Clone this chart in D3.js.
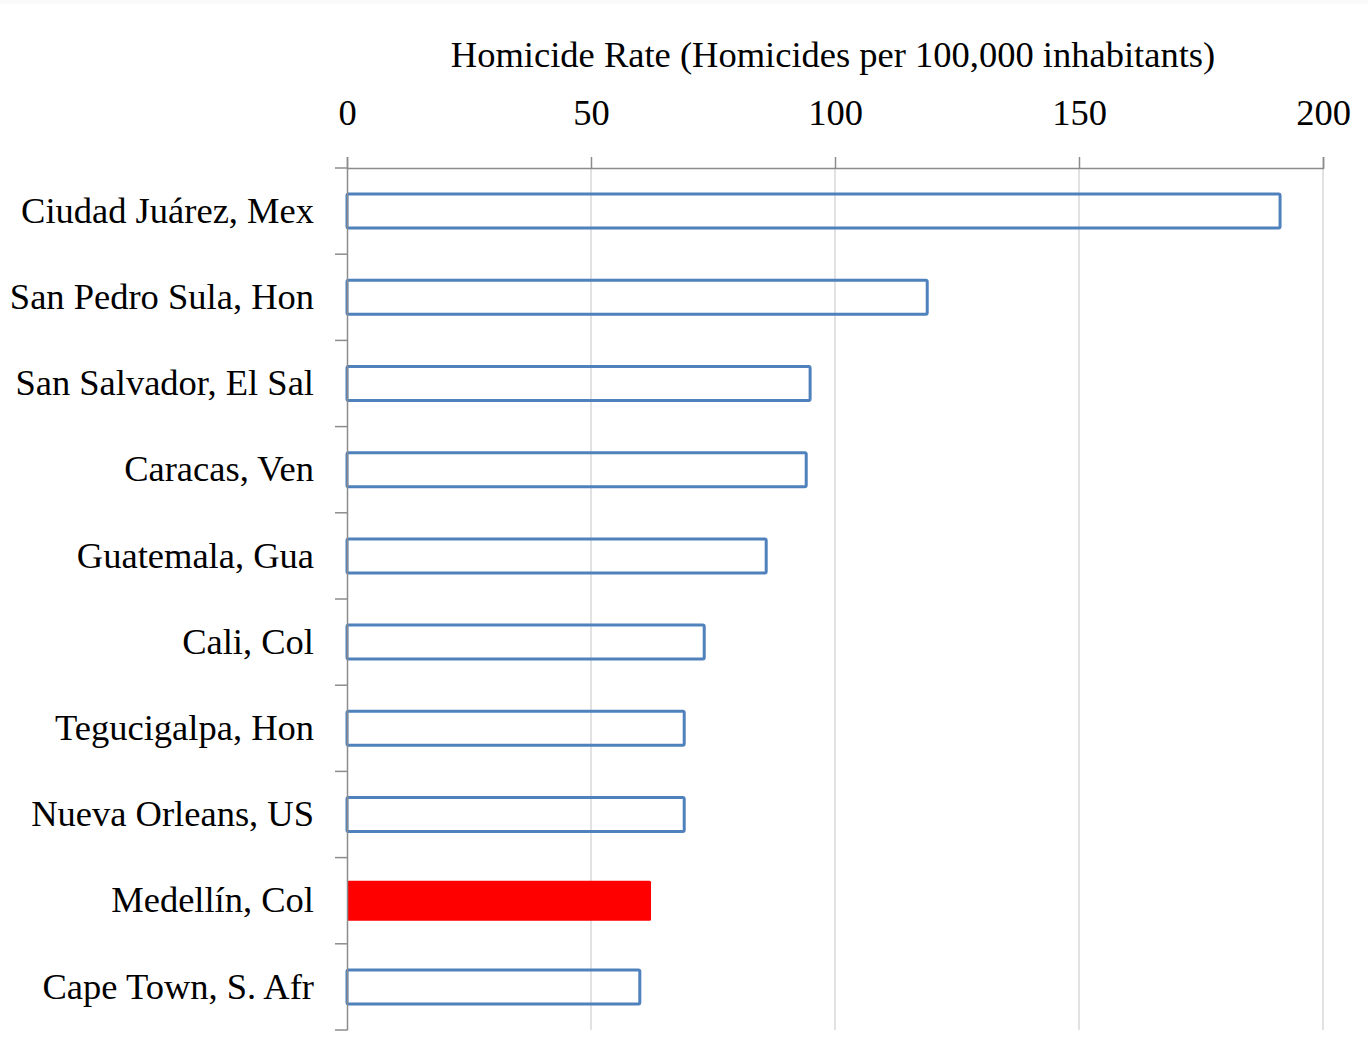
<!DOCTYPE html>
<html>
<head>
<meta charset="utf-8">
<script src="https://cdn.jsdelivr.net/npm/d3@7"></script>
<style>
  body { margin: 0; background: #fff; }
  svg { display: block; }
</style>
</head>
<body>
<svg id="chart" width="1368" height="1046"></svg>
<script>
const cities = ['Ciudad Juárez, Mex', 'San Pedro Sula, Hon', 'San Salvador, El Sal', 'Caracas, Ven',
  'Guatemala, Gua', 'Cali, Col', 'Tegucigalpa, Hon', 'Nueva Orleans, US', 'Medellín, Col', 'Cape Town, S. Afr'];
const rates = [191.2, 118.9, 94.9, 94.1, 85.9, 73.2, 69.1, 69.1, 62.3, 60.0];
const highlight = 'Medellín, Col';
const xTicks = [0, 50, 100, 150, 200];

const data = cities.map((c, i) => ({ city: c, rate: rates[i] }));

const margin = { top: 168, right: 45, bottom: 16, left: 347 };
const width = 1368, height = 1046;
const innerWidth = width - margin.left - margin.right;
const innerHeight = height - margin.top - margin.bottom;
const font = '"Liberation Serif", "Times New Roman", serif';

const svg = d3.select('#chart');
svg.append('rect').attr('width', width).attr('height', 4).attr('fill', '#fafafa');

const g = svg.append('g').attr('transform', `translate(${margin.left},${margin.top})`);

const x = d3.scaleLinear().domain([0, 200]).range([0, innerWidth]);
const y = d3.scaleBand().domain(cities).range([0, innerHeight]).paddingInner(0).paddingOuter(0);

// gridlines
g.selectAll('line.grid')
  .data(xTicks.slice(1))
  .join('line')
  .attr('class', 'grid')
  .attr('x1', d => x(d)).attr('x2', d => x(d))
  .attr('y1', 0).attr('y2', innerHeight)
  .attr('stroke', '#d9d9d9').attr('stroke-width', 1.5);

// bars
const barH = 34;
g.selectAll('rect.bar')
  .data(data)
  .join('rect')
  .attr('class', 'bar')
  .attr('x', 0)
  .attr('y', d => y(d.city) + y.bandwidth() / 2 - (d.city === highlight ? 20 : barH / 2))
  .attr('width', d => x(d.rate))
  .attr('height', d => d.city === highlight ? 40 : barH)
  .attr('rx', 1.5)
  .attr('fill', d => d.city === highlight ? '#ff0000' : 'none')
  .attr('stroke', d => d.city === highlight ? 'none' : '#4f81bd')
  .attr('stroke-width', 3);

// top axis
const xAxis = g.append('g')
  .call(d3.axisTop(x).tickValues(xTicks).tickSize(11).tickPadding(32).tickFormat(d3.format('d')));
xAxis.select('.domain').attr('stroke', '#8c8c8c').attr('stroke-width', 1.5);
xAxis.selectAll('.tick line').attr('stroke', '#8c8c8c').attr('stroke-width', 1.5);
xAxis.selectAll('.tick text')
  .attr('font-family', font)
  .attr('font-size', 36.5).attr('fill', '#000');

// left axis
const yAxis = g.append('g')
  .call(d3.axisLeft(y).tickSize(0).tickPadding(33));
yAxis.select('.domain').attr('stroke', '#8c8c8c').attr('stroke-width', 1.5);
yAxis.selectAll('.tick text')
  .attr('font-family', font)
  .attr('font-size', 36.5).attr('fill', '#000');

// band boundary ticks on left axis
g.selectAll('line.ytick')
  .data(cities.concat(['end']))
  .join('line')
  .attr('class', 'ytick')
  .attr('x1', -12).attr('x2', 0)
  .attr('y1', (d, i) => i * y.step()).attr('y2', (d, i) => i * y.step())
  .attr('stroke', '#8c8c8c').attr('stroke-width', 1.5);

// title
svg.append('text')
  .attr('x', 833).attr('y', 67)
  .attr('text-anchor', 'middle')
  .attr('font-family', font)
  .attr('font-size', 36.5)
  .text('Homicide Rate (Homicides per 100,000 inhabitants)');
</script>
</body>
</html>
